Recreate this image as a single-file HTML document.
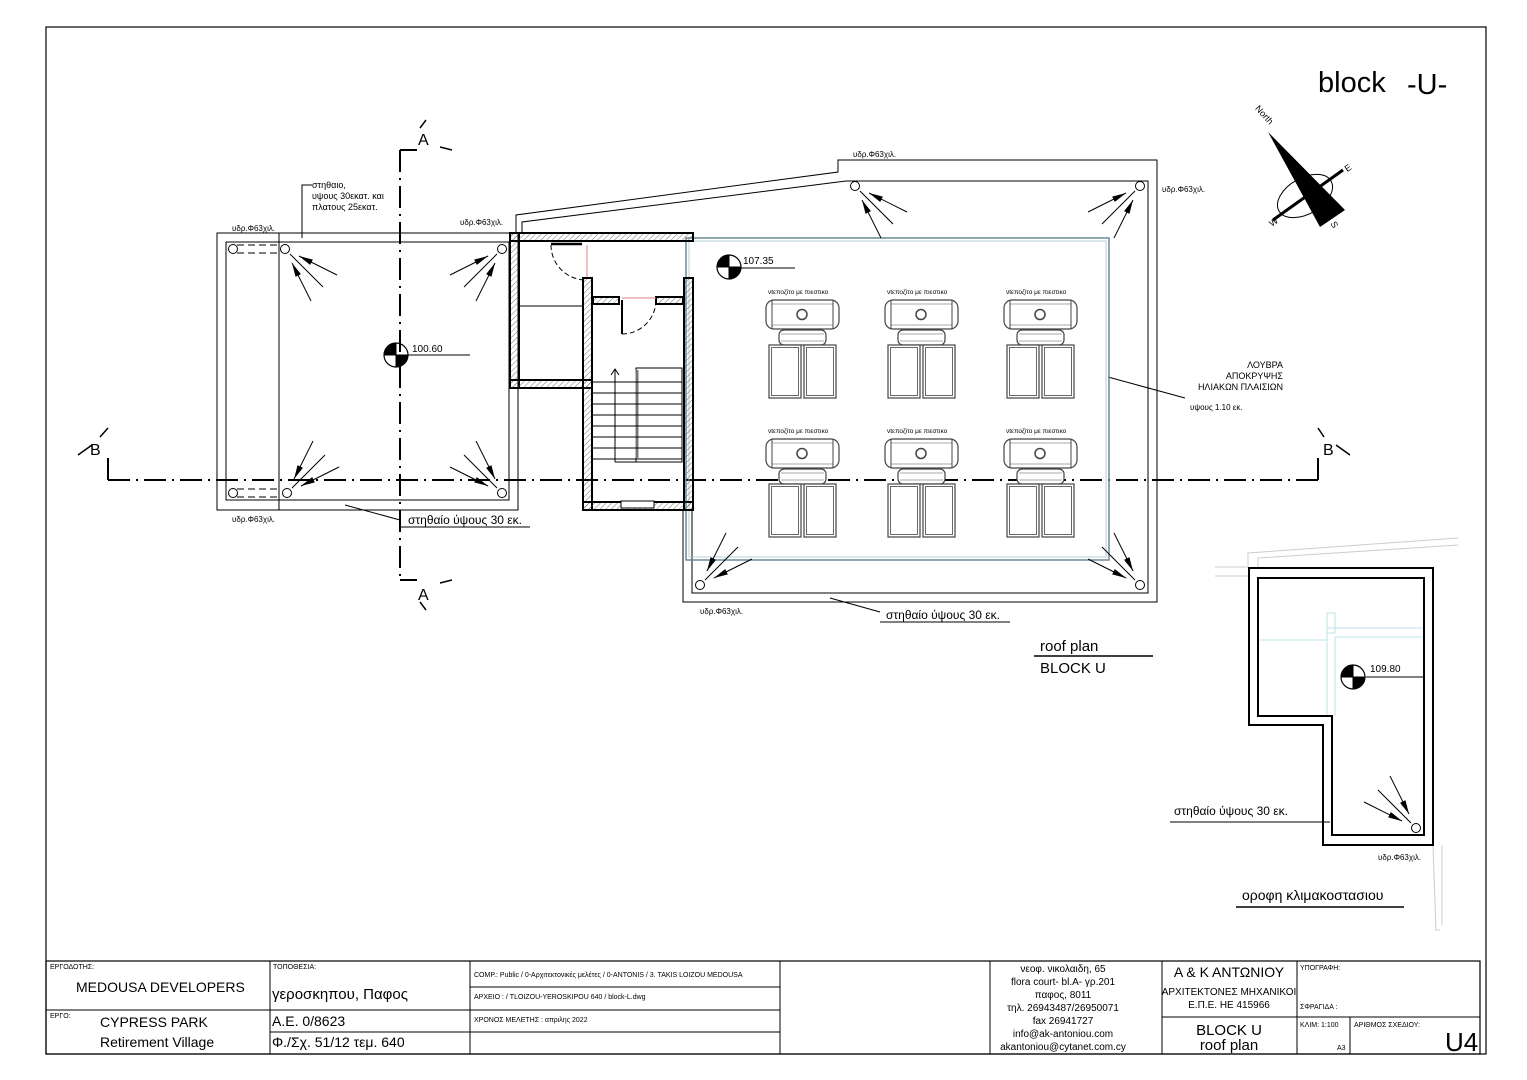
<!DOCTYPE html>
<html><head><meta charset="utf-8"><style>
html,body{margin:0;padding:0;background:#fff;}
svg{display:block;font-family:"Liberation Sans","DejaVu Sans",sans-serif;}
.t{font-family:"Liberation Sans",sans-serif;}
</style></head><body>
<svg width="1527" height="1080" viewBox="0 0 1527 1080" xmlns="http://www.w3.org/2000/svg">
<defs>
<pattern id="h" width="4" height="4" patternUnits="userSpaceOnUse" patternTransform="rotate(45)"><line x1="0" y1="0" x2="0" y2="4" stroke="#555" stroke-width="0.8"/></pattern>
<marker id="ar" markerWidth="14" markerHeight="6" refX="0" refY="3" orient="auto" markerUnits="userSpaceOnUse"><path d="M0,3 L14,0 L14,6 Z" fill="#000"/></marker>
<g id="fan" stroke="#000" stroke-width="1" fill="none">
<circle cx="0" cy="0" r="4.5"/>
<line x1="14" y1="7" x2="52" y2="26" marker-start="url(#ar)"/>
<line x1="5" y1="5" x2="38" y2="38"/>
<line x1="7" y1="14" x2="26" y2="52" marker-start="url(#ar)"/>
</g>
<g id="tank" stroke="#444" fill="#fff">
<text x="2" y="-6" font-size="6.5" fill="#000" stroke="none" class="t">νtεποζiτο με πιεστικο</text>
<rect x="0" y="0" width="73" height="29" rx="8" stroke-width="1.2"/>
<line x1="6" y1="4" x2="67" y2="4" stroke="#aaa"/><line x1="6" y1="25" x2="67" y2="25" stroke="#aaa"/>
<line x1="6" y1="0" x2="6" y2="29"/><line x1="67" y1="0" x2="67" y2="29"/>
<circle cx="36" cy="14.5" r="5" stroke-width="1.5"/>
<rect x="13" y="30" width="47" height="15" rx="5" stroke-width="1.2"/>
<line x1="15" y1="34" x2="58" y2="34" stroke="#aaa"/><line x1="15" y1="41" x2="58" y2="41" stroke="#aaa"/>
<rect x="3" y="45" width="32" height="53" stroke-width="1.2"/><rect x="5.5" y="47.5" width="27" height="48" stroke-width="0.8"/>
<rect x="38" y="45" width="32" height="53" stroke-width="1.2"/><rect x="40.5" y="47.5" width="27" height="48" stroke-width="0.8"/>
</g>
<g id="lvl">
<circle cx="0" cy="0" r="12" fill="#fff" stroke="#000" stroke-width="1.2"/>
<path d="M0,0 L-12,0 A12,12 0 0 1 0,-12 Z" fill="#000"/>
<path d="M0,0 L12,0 A12,12 0 0 1 0,12 Z" fill="#000"/>
<line x1="-12" y1="0" x2="12" y2="0" stroke="#000"/><line x1="0" y1="-12" x2="0" y2="12" stroke="#000"/>
</g>
</defs>

<rect x="46" y="27" width="1440" height="1027" fill="none" stroke="#000" stroke-width="1.2"/>
<text x="1318" y="92" font-size="29" class="t">block</text>
<text x="1407" y="94" font-size="29" class="t">-U-</text>

<g>
<text x="1248" y="112" font-size="9" transform="rotate(48 1255 118)">North</text>
<ellipse cx="1305" cy="196" rx="30" ry="18" transform="rotate(-30 1305 196)" fill="none" stroke="#000"/>
<line x1="1273" y1="220" x2="1343" y2="170" stroke="#000" stroke-width="3"/>
<polygon points="1268,132 1345,210 1320,227" fill="#000"/>
<text x="1345" y="171" font-size="9" transform="rotate(-35 1348 168)">E</text>
<text x="1269" y="226" font-size="9" transform="rotate(-35 1272 222)">W</text>
<text x="1330" y="228" font-size="9" transform="rotate(60 1334 226)">S</text>
</g>

<g fill="none" stroke="#000" stroke-width="1">
<rect x="217" y="233" width="301" height="277"/>
<rect x="226" y="242" width="283" height="258"/>
<line x1="279" y1="233" x2="279" y2="510"/>
<line x1="237" y1="245" x2="281" y2="245" stroke-dasharray="7,4"/>
<line x1="237" y1="253" x2="281" y2="253" stroke-dasharray="7,4"/>
<circle cx="233" cy="249" r="4.5"/>
<line x1="237" y1="489" x2="281" y2="489" stroke-dasharray="7,4"/>
<line x1="237" y1="497" x2="281" y2="497" stroke-dasharray="7,4"/>
<circle cx="233" cy="493" r="4.5"/>
<polyline points="312,185 302,185 302,238"/>
<line x1="345" y1="505" x2="400" y2="520"/>
</g>
<use href="#fan" transform="translate(285,249)"/>
<use href="#fan" transform="translate(502,249) scale(-1,1)"/>
<use href="#fan" transform="translate(287,493) scale(1,-1)"/>
<use href="#fan" transform="translate(502,493) scale(-1,-1)"/>
<text x="312" y="188" font-size="9">στηθαιο,</text>
<text x="312" y="199" font-size="9">υψους 30εκατ. και</text>
<text x="312" y="210" font-size="9">πλατους 25εκατ.</text>
<text x="232" y="231" font-size="8">υδρ.Φ63χιλ.</text>
<text x="460" y="225" font-size="8">υδρ.Φ63χιλ.</text>
<text x="232" y="522" font-size="8">υδρ.Φ63χιλ.</text>
<text x="408" y="524" font-size="12">στηθαίο ύψους 30 εκ.</text>
<line x1="400" y1="527" x2="530" y2="527" stroke="#000"/>
<use href="#lvl" transform="translate(396,355)"/>
<text x="412" y="352" font-size="10">100.60</text>
<line x1="408" y1="355" x2="470" y2="355" stroke="#000"/>

<g stroke="#000" stroke-width="2" fill="none">
<line x1="400" y1="150" x2="400" y2="580" stroke-dasharray="22,6,2,6"/>
<polyline points="400,150 417,150"/>
<polyline points="400,580 417,580"/>
<line x1="108" y1="480" x2="1318" y2="480" stroke-dasharray="22,6,2,6"/>
<polyline points="108,458 108,480"/><polyline points="1318,458 1318,480"/>
<line x1="78" y1="455" x2="92" y2="445" stroke-width="1.5"/>
<line x1="100" y1="437" x2="108" y2="428" stroke-width="1.5"/>
<line x1="1318" y1="428" x2="1324" y2="437" stroke-width="1.5"/>
<line x1="1336" y1="445" x2="1350" y2="455" stroke-width="1.5"/>
<line x1="420" y1="128" x2="426" y2="120" stroke-width="1.5"/>
<line x1="440" y1="147" x2="452" y2="150" stroke-width="1.5"/>
<line x1="420" y1="602" x2="426" y2="610" stroke-width="1.5"/>
<line x1="440" y1="583" x2="452" y2="580" stroke-width="1.5"/>
</g>
<text x="418" y="145" font-size="16">A</text>
<text x="418" y="600" font-size="16">A</text>
<text x="90" y="455" font-size="16">B</text>
<text x="1323" y="455" font-size="16">B</text>

<g fill="none" stroke="#000" stroke-width="1">
<polyline points="516,233 516,215 838,172 838,160 1157,160 1157,602 683,602 683,510"/>
<polyline points="522,233 522,222 846,181 1148,181 1148,593 692,593 692,510"/>
<line x1="830" y1="598" x2="880" y2="612"/>
<line x1="1108" y1="377" x2="1185" y2="398"/>
</g>
<rect x="686" y="238" width="423" height="322" fill="none" stroke="#6a8a9a" stroke-width="1.5"/>
<rect x="689" y="241" width="417" height="316" fill="none" stroke="#a9c4d0" stroke-width="0.8"/>
<use href="#fan" transform="translate(855,186)"/>
<use href="#fan" transform="translate(1140,186) scale(-1,1)"/>
<use href="#fan" transform="translate(700,585) scale(1,-1)"/>
<use href="#fan" transform="translate(1140,585) scale(-1,-1)"/>
<text x="853" y="157" font-size="8">υδρ.Φ63χιλ.</text>
<text x="1162" y="192" font-size="8">υδρ.Φ63χιλ.</text>
<text x="700" y="614" font-size="8">υδρ.Φ63χιλ.</text>
<text x="886" y="619" font-size="12">στηθαίο ύψους 30 εκ.</text>
<line x1="880" y1="622" x2="1010" y2="622" stroke="#000"/>
<text x="1283" y="368" font-size="9" text-anchor="end">ΛΟΥΒΡΑ</text>
<text x="1283" y="379" font-size="9" text-anchor="end">ΑΠΟΚΡΥΨΗΣ</text>
<text x="1283" y="390" font-size="9" text-anchor="end">ΗΛΙΑΚΩΝ ΠΛΑΙΣΙΩΝ</text>
<text x="1190" y="410" font-size="8">υψους 1.10 εκ.</text>
<use href="#lvl" transform="translate(729,267)"/>
<text x="743" y="264" font-size="10">107.35</text>
<line x1="741" y1="268" x2="795" y2="268" stroke="#000"/>

<use href="#tank" transform="translate(766,300)"/>
<use href="#tank" transform="translate(885,300)"/>
<use href="#tank" transform="translate(1004,300)"/>
<use href="#tank" transform="translate(766,439)"/>
<use href="#tank" transform="translate(885,439)"/>
<use href="#tank" transform="translate(1004,439)"/>

<g stroke="#000" stroke-width="2">
<rect x="510" y="233" width="9" height="155" fill="url(#h)"/>
<rect x="510" y="233" width="183" height="8" fill="url(#h)"/>
<rect x="510" y="380" width="82" height="8" fill="url(#h)"/>
<rect x="583" y="278" width="9" height="232" fill="url(#h)"/>
<rect x="583" y="502" width="110" height="8" fill="url(#h)"/>
<rect x="684" y="278" width="9" height="232" fill="url(#h)"/>
<rect x="593" y="297" width="26" height="7" fill="url(#h)"/>
<rect x="656" y="297" width="27" height="7" fill="url(#h)"/>
</g>
<g fill="none" stroke="#000" stroke-width="1">
<rect x="621" y="501" width="33" height="7" fill="#fff"/>
<path d="M551,245 A35,35 0 0 0 586,280" stroke-dasharray="5,3"/>
<line x1="551" y1="244" x2="582" y2="244" stroke-width="2.5"/>
<line x1="587" y1="245" x2="587" y2="277" stroke="#e08080"/>
<line x1="622" y1="298" x2="656" y2="298" stroke="#e08080"/>
<line x1="622" y1="300" x2="622" y2="334" stroke-width="2"/>
<path d="M622,334 A34,34 0 0 0 656,300" stroke-dasharray="5,3"/>
<line x1="519" y1="306" x2="583" y2="306"/>
<rect x="636" y="368" width="46" height="94"/>
<line x1="637" y1="370" x2="637" y2="458" stroke-width="3" stroke="#777"/>
<path d="M593,382 H682 M593,393 H682 M593,404 H682 M593,415 H682 M593,426 H682 M593,437 H682 M593,448 H682 M593,459 H682" stroke-width="0.9"/>
<line x1="615" y1="370" x2="615" y2="462"/>
<line x1="615" y1="462" x2="662" y2="462"/>
<path d="M611,375 L615,369 L619,375"/>
</g>

<text x="1040" y="651" font-size="15">roof plan</text>
<line x1="1034" y1="656" x2="1153" y2="656" stroke="#000" stroke-width="1.5"/>
<text x="1040" y="673" font-size="15">BLOCK U</text>

<g fill="none" stroke="#ccc" stroke-width="1">
<polyline points="1248,567 1248,553 1458,538"/>
<polyline points="1258,567 1258,558 1458,545"/>
<polyline points="1433,845 1436,930 1440,930"/>
<line x1="1442" y1="845" x2="1442" y2="925"/>
<line x1="1215" y1="567" x2="1248" y2="567"/>
<line x1="1215" y1="576" x2="1248" y2="576"/>
</g>
<g fill="none" stroke="#bde0ea" stroke-width="1">
<line x1="1258" y1="640" x2="1327" y2="640"/>
<rect x="1327" y="613" width="8" height="20"/>
<line x1="1327" y1="628" x2="1424" y2="628"/>
<line x1="1335" y1="637" x2="1424" y2="637"/>
<line x1="1327" y1="628" x2="1327" y2="716"/>
<line x1="1335" y1="637" x2="1335" y2="716"/>
</g>
<g fill="none" stroke="#000" stroke-width="2">
<polygon points="1249,568 1433,568 1433,845 1323,845 1323,725 1249,725"/>
<polygon points="1258,578 1424,578 1424,835 1332,835 1332,716 1258,716"/>
</g>
<use href="#fan" transform="translate(1416,828) scale(-1,-1)"/>
<use href="#lvl" transform="translate(1353,677)"/>
<text x="1370" y="672" font-size="10">109.80</text>
<line x1="1366" y1="677" x2="1423" y2="677" stroke="#000"/>
<text x="1174" y="815" font-size="12">στηθαίο ύψους 30 εκ.</text>
<line x1="1170" y1="822" x2="1330" y2="822" stroke="#000"/>
<text x="1378" y="860" font-size="8">υδρ.Φ63χιλ.</text>
<text x="1242" y="900" font-size="14">οροφη κλιμακοστασιου</text>
<line x1="1236" y1="907" x2="1404" y2="907" stroke="#000" stroke-width="1.5"/>

<g fill="none" stroke="#000" stroke-width="1">
<rect x="46" y="961" width="1434" height="93" stroke-width="1.2"/>
<line x1="270" y1="961" x2="270" y2="1054"/>
<line x1="470" y1="961" x2="470" y2="1054"/>
<line x1="780" y1="961" x2="780" y2="1054"/>
<line x1="990" y1="961" x2="990" y2="1054"/>
<line x1="1162" y1="961" x2="1162" y2="1054"/>
<line x1="1297" y1="961" x2="1297" y2="1054"/>
<line x1="1350" y1="1017" x2="1350" y2="1054"/>
<line x1="46" y1="1010" x2="470" y2="1010"/>
<line x1="470" y1="987" x2="780" y2="987"/>
<line x1="470" y1="1010" x2="780" y2="1010"/>
<line x1="470" y1="1032" x2="780" y2="1032"/>
<line x1="270" y1="1032" x2="470" y2="1032"/>
<line x1="1162" y1="1017" x2="1480" y2="1017"/>
</g>
<g font-size="7">
<text x="50" y="969">ΕΡΓΟΔΟΤΗΣ:</text>
<text x="50" y="1018">ΕΡΓΟ:</text>
<text x="273" y="969">ΤΟΠΟΘΕΣΙΑ:</text>
<text x="474" y="977">COMP.: Public / 0-Αρχιτεκτονικές μελέτες / 0-ANTONIS / 3. TAKIS LOIZOU MEDOUSA</text>
<text x="474" y="999">ΑΡΧΕΙΟ :   / TLOIZOU-YEROSKIPOU 640 / block-L.dwg</text>
<text x="474" y="1022">ΧΡΟΝΟΣ ΜΕΛΕΤΗΣ :   απριλης 2022</text>
<text x="1300" y="970">ΥΠΟΓΡΑΦΗ:</text>
<text x="1300" y="1009">ΣΦΡΑΓΙΔΑ :</text>
<text x="1300" y="1027">ΚΛΙΜ: 1:100</text>
<text x="1354" y="1027">ΑΡΙΘΜΟΣ ΣΧΕΔΙΟΥ:</text>
<text x="1337" y="1050">A3</text>
</g>
<text x="76" y="992" font-size="14">MEDOUSA  DEVELOPERS</text>
<text x="100" y="1027" font-size="14">CYPRESS PARK</text>
<text x="100" y="1047" font-size="14">Retirement Village</text>
<text x="272" y="999" font-size="15">γεροσκηπου, Παφος</text>
<text x="272" y="1026" font-size="14">A.E. 0/8623</text>
<text x="272" y="1047" font-size="14">Φ./Σχ. 51/12   τεμ. 640</text>
<g font-size="10" text-anchor="middle">
<text x="1063" y="972">νεοφ. νικολαιδη, 65</text>
<text x="1063" y="985">flora court- bl.A- γρ.201</text>
<text x="1063" y="998">παφος, 8011</text>
<text x="1063" y="1011">τηλ. 26943487/26950071</text>
<text x="1063" y="1024">fax  26941727</text>
<text x="1063" y="1037">info@ak-antoniou.com</text>
<text x="1063" y="1050">akantoniou@cytanet.com.cy</text>
<text x="1229" y="977" font-size="14">Α &amp; Κ ΑΝΤΩΝΙΟΥ</text>
<text x="1229" y="995" font-size="10">ΑΡΧΙΤΕΚΤΟΝΕΣ ΜΗΧΑΝΙΚΟΙ</text>
<text x="1229" y="1008" font-size="10">Ε.Π.Ε.    ΗΕ 415966</text>
<text x="1229" y="1035" font-size="15">BLOCK U</text>
<text x="1229" y="1050" font-size="15">roof plan</text>
</g>
<text x="1445" y="1051" font-size="26">U4</text>
</svg>
</body></html>
